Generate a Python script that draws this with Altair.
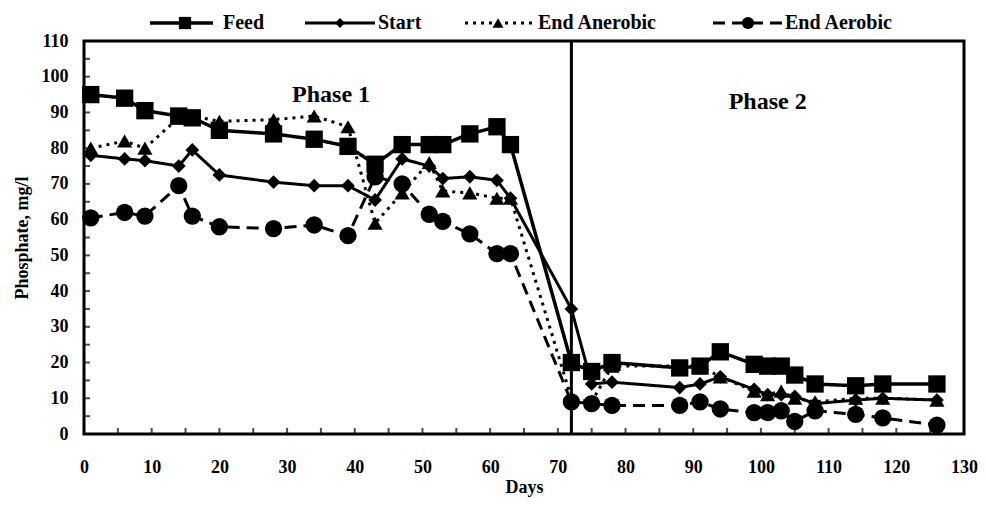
import altair as alt
import pandas as pd

days = [1, 6, 9, 14, 16, 20, 28, 34, 39, 43, 47, 51, 53, 57, 61, 63,
        72, 75, 78, 88, 91, 94, 99, 101, 103, 105, 108, 114, 118, 126]
feed = [95, 94, 90.5, 89, 88.5, 85, 84, 82.5, 80.5, 75.5, 81, 81, 81, 84, 86, 81,
        20, 17.5, 20, 18.5, 19, 23, 19.5, 19, 19, 16.5, 14, 13.5, 14, 14]
start = [78, 77, 76.5, 75, 79.5, 72.5, 70.5, 69.5, 69.5, 65.5, 77, 75, 71.5, 72, 71, 66,
         35, 14, 14.5, 13, 14, 16, 12.5, 11, 11, 10.5, 8.5, 9.5, 10, 9.5]
end_anerobic = [80, 82, 80, 88.5, 89, 87.5, 88, 89, 86, 59, 67.5, 76, 68, 67.5, 66, 66,
                10, 9, 19, 19, 19, 16, 12, 11, 12, 10, 9, 10, 10, 9.5]
end_aerobic = [60.5, 62, 61, 69.5, 61, 58, 57.5, 58.5, 55.5, 72, 70, 61.5, 59.5, 56, 50.5, 50.5,
               9, 8.5, 8, 8, 9, 7, 6, 6, 6.5, 3.5, 6.5, 5.5, 4.5, 2.5]

series_names = ["Feed", "Start", "End Anerobic", "End Aerobic"]
phase_labels = ["Phase 1", "Phase  2"]
phase_x = [36.5, 101]
phase_y = [95, 93]
phase_split_day = [72]
x_ticks = list(range(0, 131, 10))
y_ticks = list(range(0, 111, 10))
minor_x = list(range(0, 131, 5))
minor_y = list(range(0, 111, 5))

FONT = "Liberation Serif"
W, H = 880, 393

xs = alt.Scale(domain=[0, 130], nice=False, zero=False)
ys = alt.Scale(domain=[0, 110], nice=False)
x_axis = alt.Axis(values=x_ticks, title="Days")
y_axis = alt.Axis(values=y_ticks, title="Phosphate, mg/l")

styles = {
    "Feed": dict(shape="square", size=300, dash=[1, 0], width=3.5),
    "Start": dict(shape="diamond", size=190, dash=[1, 0], width=3),
    "End Anerobic": dict(shape="triangle-up", size=230, dash=[3, 5], width=3),
    "End Aerobic": dict(shape="circle", size=300, dash=[12, 7], width=3),
}
values = {"Feed": feed, "Start": start, "End Anerobic": end_anerobic, "End Aerobic": end_aerobic}

layers = []
for name in ["End Aerobic", "End Anerobic", "Start", "Feed"]:
    df = pd.DataFrame({"Days": days, "P": values[name]})
    st = styles[name]
    base = alt.Chart(df).encode(
        x=alt.X("Days:Q", scale=xs, axis=x_axis),
        y=alt.Y("P:Q", scale=ys, axis=y_axis),
    )
    line = base.mark_line(color="black", strokeWidth=st["width"], strokeDash=st["dash"])
    pts = base.mark_point(shape=st["shape"], size=st["size"], filled=True, color="black", opacity=1)
    layers += [line, pts]

vline = alt.Chart(pd.DataFrame({"d": phase_split_day})).mark_rule(color="black", strokeWidth=3).encode(
    x=alt.X("d:Q", scale=xs, axis=x_axis)
)

phase_df = pd.DataFrame({"x": phase_x, "y": phase_y, "t": phase_labels})
phase_text = alt.Chart(phase_df).mark_text(font=FONT, fontSize=24, fontWeight="bold", color="black").encode(
    x=alt.X("x:Q", scale=xs, axis=x_axis), y=alt.Y("y:Q", scale=ys, axis=y_axis), text="t:N"
)

xt = alt.Chart(pd.DataFrame({"v": minor_x})).mark_tick(orient="vertical", color="black", size=6, thickness=2).encode(
    x=alt.X("v:Q", scale=xs, axis=x_axis), y=alt.value(H - 3)
)
yt = alt.Chart(pd.DataFrame({"v": minor_y})).mark_tick(orient="horizontal", color="black", size=6, thickness=2).encode(
    y=alt.Y("v:Q", scale=ys, axis=y_axis), x=alt.value(3)
)

# manual legend (layout positions in pixels)
LY = -18
leg = []
leg_pos = {
    "Feed": (66, 129, 101, 139),
    "Start": (221, 291, 256, 294),
    "End Anerobic": (381, 451, 414, 454),
    "End Aerobic": (629, 699, 664, 701),
}
leg_sizes = {"Feed": 150, "Start": 100, "End Anerobic": 120, "End Aerobic": 150}
for name in series_names:
    x1, x2, xm, xtx = leg_pos[name]
    st = styles[name]
    ldf = pd.DataFrame({"s": [name]})
    leg.append(alt.Chart(ldf).mark_rule(color="black", strokeWidth=st["width"], strokeDash=st["dash"]).encode(
        x=alt.value(x1), x2=alt.value(x2), y=alt.value(LY)))
    leg.append(alt.Chart(ldf).mark_point(shape=st["shape"], size=leg_sizes[name], filled=True, color="black", opacity=1).encode(
        x=alt.value(xm), y=alt.value(LY)))
    leg.append(alt.Chart(ldf).mark_text(font=FONT, fontSize=20, fontWeight="bold", color="black", align="left", baseline="middle").encode(
        x=alt.value(xtx), y=alt.value(LY), text="s:N"))

chart = alt.layer(*layers, vline, phase_text, xt, yt, *leg).properties(
    width=W, height=H,
    padding={"left": 76, "top": 33, "right": 14, "bottom": 66},
    autosize=alt.AutoSizeParams(type="none"),
).configure_view(
    stroke="black", strokeWidth=3
).configure_axis(
    labelFont=FONT, labelFontSize=18, labelFontWeight="bold", labelColor="black",
    titleFont=FONT, titleFontSize=18, titleFontWeight="bold", titleColor="black",
    grid=False, ticks=False, tickSize=0, domain=False,
    labelOverlap=False, labelFlush=False,
).configure_axisX(
    labelPadding=24, titlePadding=2
).configure_axisY(
    labelPadding=16, titlePadding=10
)

chart.save("out.html", embed_options={"renderer": "svg", "actions": False})
